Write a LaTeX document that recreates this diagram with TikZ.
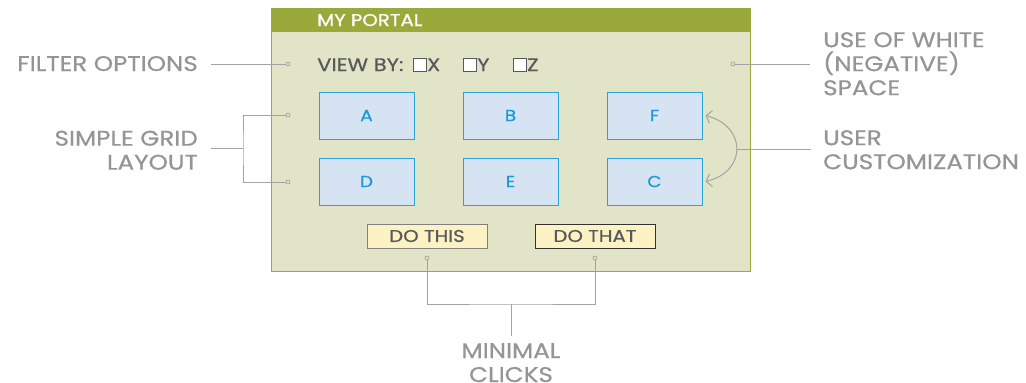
\documentclass[tikz,border=0pt]{standalone}
\usepackage{fontspec}
\setmainfont{Poppins}[FakeStretch=1.16, FakeBold=0.7]
\usetikzlibrary{arrows.meta}
\definecolor{olive}{HTML}{9AAA3A}
\definecolor{panel}{HTML}{E1E4C6}
\definecolor{boxfill}{HTML}{D5E3F2}
\definecolor{boxline}{HTML}{2AA3DA}
\definecolor{boxtext}{HTML}{1B9BD7}
\definecolor{labelgray}{HTML}{939598}
\definecolor{linegray}{HTML}{A3A3A3}
\definecolor{darktext}{HTML}{58595B}
\definecolor{btnfill}{HTML}{FDF2C4}
\tikzset{
  label/.style={text=labelgray, inner sep=0pt, font=\fontsize{21.2}{24}\selectfont},
  gridbox/.style={draw=boxline, fill=boxfill, line width=1pt, minimum width=95pt, minimum height=47pt, inner sep=0pt, text=boxtext, font=\fontsize{16}{18}\selectfont},
  btn/.style={fill=btnfill, line width=1pt, minimum width=120pt, minimum height=24pt, inner sep=0pt, text=darktext, font=\fontsize{17}{19}\selectfont},
  chk/.style={draw=darktext, fill=white, line width=0.8pt, minimum width=13pt, minimum height=13pt, inner sep=0pt},
  darklbl/.style={text=darktext, inner sep=0pt, font=\fontsize{18.2}{20}\selectfont},
  dot/.style={circle, draw=linegray, fill=panel, line width=0.7pt, minimum size=4pt, inner sep=0pt},
  conn/.style={draw=linegray, line width=1pt},
}
\begin{document}
\begin{tikzpicture}[x=1pt,y=-1pt]
\useasboundingbox (0,0) rectangle (1026,383);
% panel
\draw[fill=panel, draw=olive, line width=1pt] (271.5,8) rectangle (750,271);
\fill[olive] (271,7.5) rectangle (750.5,31.5);
\node[anchor=base west, text=white, inner sep=0pt, font=\fontsize{17}{19}\selectfont] (title) at (317,26) {MY PORTAL};
% view by
\node[darklbl, anchor=base west] (viewby) at (317,71) {VIEW BY:};
\node[chk] (cx) at (419.5,64.5) {};
\node[darklbl, anchor=base west] (lx) at (427,71) {X};
\node[chk] (cy) at (469.5,64.5) {};
\node[darklbl, anchor=base west] (ly) at (477,71) {Y};
\node[chk] (cz) at (519.5,64.5) {};
\node[darklbl, anchor=base west] (lz) at (527,71) {Z};
% grid
\node[gridbox] (A) at (366.5,115.5) {A};
\node[gridbox] (B) at (510.5,115.5) {B};
\node[gridbox] (F) at (654.5,115.5) {F};
\node[gridbox] (D) at (366.5,181.5) {D};
\node[gridbox] (E) at (510.5,181.5) {E};
\node[gridbox] (C) at (654.5,181.5) {C};
% buttons
\node[btn, draw=gray] (dothis) at (427,236) {DO THIS};
\node[btn, draw=black!80] (dothat) at (595,236) {DO THAT};
% labels
\node[label, anchor=base east] (filter) at (198,71) {FILTER OPTIONS};
\node[label, anchor=north east, align=right] (grid) at (198,130.5) {SIMPLE GRID\\LAYOUT};
\node[label, anchor=north west, align=left] (white) at (823,32) {USE OF WHITE\\(NEGATIVE)\\SPACE};
\node[label, anchor=north west, align=left] (user) at (823,130) {USER\\CUSTOMIZATION};
\node[label, anchor=north, align=center] (minimal) at (511,343) {MINIMAL\\CLICKS};
% connector dots and joints
\node[dot] (d1) at (288,64) {};
\node[dot] (d2) at (288,115) {};
\node[dot] (d3) at (288,182) {};
\node[dot] (d4) at (733,64) {};
\node[dot] (d5) at (427,258) {};
\node[dot] (d6) at (595,258) {};
\coordinate (f1) at (211,64);
\coordinate (g1) at (211,148);
\coordinate (g2) at (243,148);
\coordinate (w1) at (810,64);
\coordinate (u1) at (737,149);
\coordinate (u2) at (811,149);
\coordinate (m1) at (511,304);
\coordinate (m2) at (511,336);
% connectors
\draw[conn] (d1) -- (f1);
\draw[conn] (d2) -| (g2) |- (d3);
\draw[conn] (g2) -- (g1);
\draw[conn] (d4) -- (w1);
\draw[conn] (d5) |- (m1) -| (d6);
\draw[conn] (m1) -- (m2);
\draw[conn] (u1) -- (u2);
\draw[conn, {Straight Barb[length=5pt,width=13pt]}-{Straight Barb[length=5pt,width=13pt]}] ([xshift=3pt]F.east) .. controls (747,126) and (747,172) .. ([xshift=3pt]C.east);
\end{tikzpicture}
\end{document}
